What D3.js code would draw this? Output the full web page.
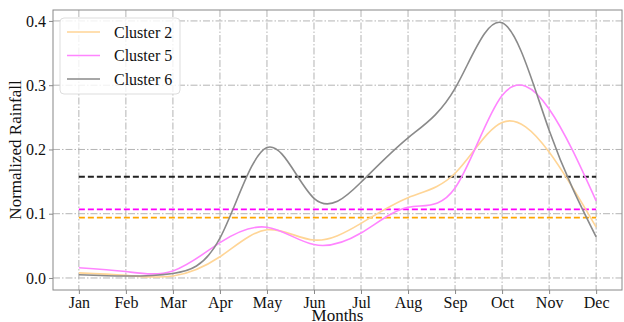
<!DOCTYPE html>
<html>
<head>
<meta charset="utf-8">
<script src="https://cdn.jsdelivr.net/npm/d3@7"></script>
<style>
  body { margin: 0; background: #fff; }
  text { font-family: "Liberation Serif", "Times New Roman", serif; }
</style>
</head>
<body>
<svg id="dessin" width="624" height="322"></svg>
<script>
let mois = ["Jan","Feb","Mar","Apr","May","Jun","Jul","Aug","Sep","Oct","Nov","Dec"];
let cluster2 = [0.008,0.004,0.003,0.033,0.075,0.059,0.085,0.125,0.163,0.242,0.196,0.079];
let cluster5 = [0.016,0.010,0.011,0.055,0.079,0.052,0.070,0.110,0.140,0.284,0.263,0.120];
let cluster6 = [0.005,0.003,0.007,0.062,0.203,0.124,0.149,0.218,0.295,0.397,0.230,0.064];
let moyennes = [0.0938, 0.1068, 0.1575];
let noms = ["Cluster 2","Cluster 5","Cluster 6"];
let yTicks = [0.0,0.1,0.2,0.3,0.4];

let series = [
  {nom: noms[0], vals: cluster2, moy: moyennes[0], couleur: "#ffd596", dash: "#ffa500"},
  {nom: noms[1], vals: cluster5, moy: moyennes[1], couleur: "#ff85ff", dash: "#ff00ff"},
  {nom: noms[2], vals: cluster6, moy: moyennes[2], couleur: "#8a8a8a", dash: "#222222"}
];

const gauche = 53, droite = 622, haut = 10, bas = 290;
const x = d3.scaleLinear().domain([-0.55, 11.55]).range([gauche, droite]);
const y = d3.scaleLinear().domain([-0.0187, 0.417]).range([bas, haut]);

const svg = d3.select("#dessin");

// grille
const grille = svg.append("g").attr("stroke", "#b4b4b4").attr("stroke-width", 1)
  .attr("stroke-dasharray", "7,2,1.5,2");
grille.selectAll(".gx").data(mois).enter().append("line")
  .attr("x1", (d,i) => x(i)).attr("x2", (d,i) => x(i))
  .attr("y1", haut).attr("y2", bas);
grille.selectAll(".gy").data(yTicks).enter().append("line")
  .attr("x1", gauche).attr("x2", droite)
  .attr("y1", d => y(d)).attr("y2", d => y(d));

// lignes moyennes
svg.selectAll(".moy").data(series).enter().append("line")
  .attr("x1", x(0)).attr("x2", x(11))
  .attr("y1", d => y(d.moy)).attr("y2", d => y(d.moy))
  .attr("stroke", d => d.dash).attr("stroke-width", 1.8)
  .attr("stroke-dasharray", "6,3");

// courbes
const ligne = d3.line().x((d,i) => x(i)).y(d => y(d)).curve(d3.curveNatural);
svg.selectAll(".courbe").data(series).enter().append("path")
  .attr("d", d => ligne(d.vals))
  .attr("fill", "none").attr("stroke", d => d.couleur).attr("stroke-width", 1.6);

// axes
const axeX = d3.axisBottom(x).tickValues(d3.range(12)).tickFormat(i => mois[i]).tickSize(4);
const axeY = d3.axisLeft(y).tickValues(yTicks).tickFormat(d3.format(".1f")).tickSize(4);

svg.append("g").attr("transform", `translate(0,${bas})`).call(axeX)
  .call(g => g.select(".domain").remove())
  .call(g => g.selectAll("line").attr("stroke", "#888"))
  .call(g => g.selectAll("text").attr("font-size", 16).attr("fill", "#111")
    .attr("font-family", "Liberation Serif"));
svg.append("g").attr("transform", `translate(${gauche},0)`).call(axeY)
  .call(g => g.select(".domain").remove())
  .call(g => g.selectAll("line").attr("stroke", "#888"))
  .call(g => g.selectAll("text").attr("font-size", 16).attr("fill", "#111")
    .attr("font-family", "Liberation Serif"));

svg.append("rect").attr("x", gauche).attr("y", haut)
  .attr("width", droite - gauche).attr("height", bas - haut)
  .attr("fill", "none").attr("stroke", "#888").attr("stroke-width", 1);

// titres
svg.append("text").attr("x", (gauche + droite) / 2).attr("y", 321)
  .attr("text-anchor", "middle").attr("font-size", 17).attr("fill", "#111").text("Months");
svg.append("text").attr("transform", `translate(21,${(haut + bas) / 2}) rotate(-90)`)
  .attr("text-anchor", "middle").attr("font-size", 17).attr("fill", "#111").text("Normalized Rainfall");

// légende
const leg = svg.append("g").attr("transform", "translate(60,18)");
leg.append("rect").attr("width", 120).attr("height", 76).attr("rx", 4)
  .attr("fill", "#fff").attr("fill-opacity", 0.8).attr("stroke", "#ddd");
const entrees = leg.selectAll(".entree").data(series).enter().append("g")
  .attr("transform", (d,i) => `translate(0,${14 + i * 23.5})`);
entrees.append("line").attr("x1", 7).attr("x2", 40)
  .attr("stroke", d => d.couleur).attr("stroke-width", 1.6);
entrees.append("text").attr("x", 54).attr("y", 5.5).attr("font-size", 16).attr("fill", "#111")
  .text(d => d.nom);
</script>
</body>
</html>
